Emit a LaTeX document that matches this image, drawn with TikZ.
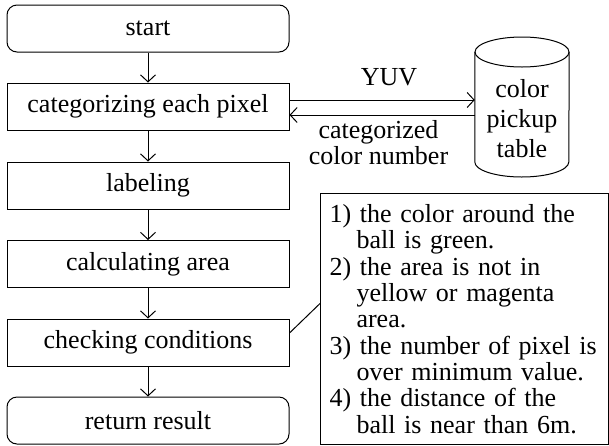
\documentclass[tikz,border=0pt]{standalone}
\usepackage{fontspec}
\setmainfont{Liberation Serif}
\usetikzlibrary{shapes.geometric,arrows.meta,calc}
\begin{document}
\begin{tikzpicture}[x=1pt,y=-1pt,
  every node/.style={font=\fontsize{26}{26.3}\selectfont},
  box/.style={draw, line width=1pt, minimum width=282pt, minimum height=47pt, inner sep=0pt},
  term/.style={box, rounded corners=10pt},
  arr/.style={line width=1pt, -{Straight Barb[length=7pt,width=15pt]}},
  ln/.style={line width=1pt}]
\useasboundingbox (0,0) rectangle (609,445);
\node[term] (start) at (148,28.5) {start};
\node[box] (cat) at (148,106.5) {categorizing each pixel};
\node[box] (lab) at (148,185.5) {labeling};
\node[box] (calc) at (148,264) {calculating area};
\node[box] (check) at (148,342.5) {checking conditions};
\node[term] (ret) at (148,420.5) {return result};
\draw[arr] (start) -- (cat);
\draw[arr] (cat) -- (lab);
\draw[arr] (lab) -- (calc);
\draw[arr] (calc) -- (check);
\draw[arr] (check) -- (ret);
% cylinder (colour pickup table)
\node[minimum width=94pt, minimum height=140pt, inner sep=0pt] (table) at (522,107) {};
\draw[ln] (table.north west |- 0,52) -- (table.west |- 0,162)
  arc[start angle=180, end angle=360, x radius=47pt, y radius=15pt]
  -- (table.east |- 0,52);
\draw[ln] (522,52) ellipse [x radius=47pt, y radius=15pt];
\node[align=center, inner sep=0pt, font=\fontsize{26}{30}\selectfont] (tabletext) at (522,119) {color\\pickup\\table};
\node[anchor=base, inner sep=0pt] (yuv) at (389,85) {YUV};
\node[align=center, inner sep=0pt] (catnum) at (378.5,142.4) {categorized\\color number};
\draw[arr] ($(cat.east)+(0,-6.5)$) -- ($(table.west |- cat.east)+(0,-6.5)$);
\draw[arr] ($(table.west |- cat.east)+(0,8.5)$) -- ($(cat.east)+(0,8.5)$);
\node[draw, line width=1pt, anchor=north west, text width=270pt, inner xsep=9pt, inner ysep=0pt,
  minimum height=251pt, align=left] (note) at (320,193) {1) the color around the\\
\hspace*{27pt}ball is green.\\
2) the area is not in\\
\hspace*{27pt}yellow or magenta\\
\hspace*{27pt}area.\\
3) the number of pixel is\\
\hspace*{27pt}over minimum value.\\
4) the distance of the\\
\hspace*{27pt}ball is near than 6m.};
\draw[ln] ($(check.east)+(0,-9.5)$) -- ($(note.west)+(0,-15.5)$);
\end{tikzpicture}
\end{document}
